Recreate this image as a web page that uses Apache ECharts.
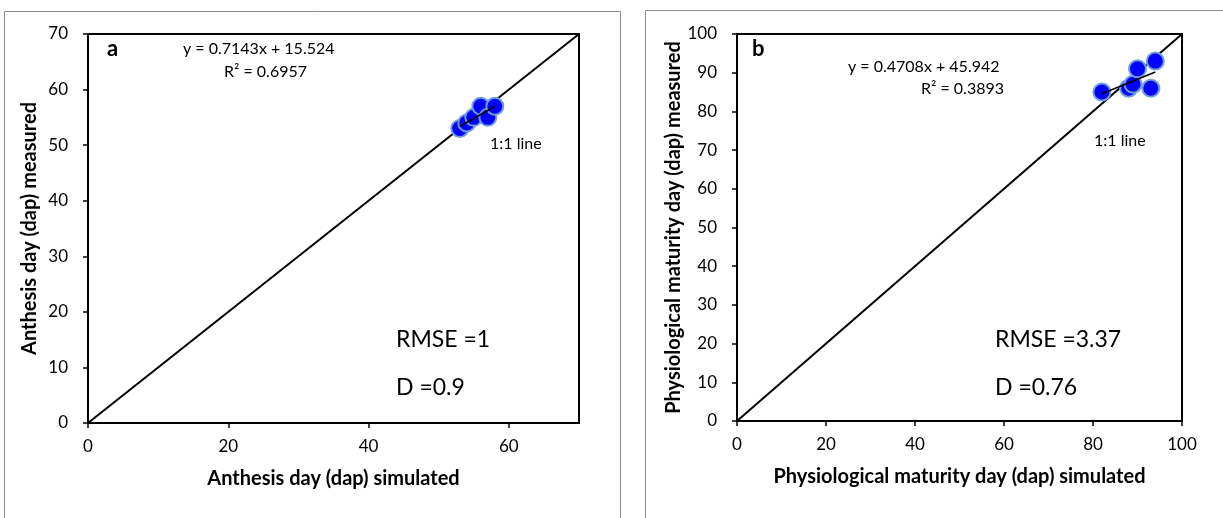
<!DOCTYPE html>
<html><head><meta charset="utf-8">
<script src="https://cdn.jsdelivr.net/npm/echarts@6/dist/echarts.min.js"></script>
<style>html,body{margin:0;padding:0;background:#fff}#c{width:1223px;height:518px}</style>
</head><body><div id="c"></div>
<script>
// Panel a: Anthesis
const anthesisSimulated = [53, 54, 55, 56, 57, 58];
const anthesisMeasured  = [53, 54, 55, 57, 55, 57];
// Panel b: Physiological maturity
const maturitySimulated = [82, 88, 89, 90, 93, 94];
const maturityMeasured  = [85, 86, 87, 91, 86, 93];

const axisA = {min: 0, max: 70, xInterval: 20, yInterval: 10};
const axisB = {min: 0, max: 100, xInterval: 20, yInterval: 10};

const labelsA = {eq: 'y = 0.7143x + 15.524', r2: 'R\u00b2 = 0.6957', rmse: 'RMSE =1', d: 'D =0.9', tag: 'a'};
const labelsB = {eq: 'y = 0.4708x + 45.942', r2: 'R\u00b2 = 0.3893', rmse: 'RMSE =3.37', d: 'D =0.76', tag: 'b'};

function fit(xs, ys) {
  const n = xs.length;
  const mx = xs.reduce((a,b)=>a+b,0)/n, my = ys.reduce((a,b)=>a+b,0)/n;
  let sxy = 0, sxx = 0;
  for (let i=0;i<n;i++){ sxy += (xs[i]-mx)*(ys[i]-my); sxx += (xs[i]-mx)**2; }
  const k = sxy/sxx, b = my - k*mx;
  const x0 = Math.min(...xs), x1 = Math.max(...xs);
  return [[x0, k*x0+b], [x1, k*x1+b]];
}

const FONT = 'Lato, "Open Sans", sans-serif';
const chart = echarts.init(document.getElementById('c'), null, {renderer: 'canvas'});

function xAxisCfg(gi, ax, name) {
  return {
    gridIndex: gi, type: 'value', min: ax.min, max: ax.max, interval: ax.xInterval,
    name: name, nameLocation: 'middle', nameGap: 46,
    nameTextStyle: {fontFamily: FONT, fontSize: 20, fontWeight: 'bold', color: '#000'},
    axisLine: {show: true, onZero: false, lineStyle: {color: '#000', width: 2}},
    axisTick: {show: true, length: 5, lineStyle: {color: '#000', width: 1.5}},
    axisLabel: {fontFamily: FONT, fontSize: 17, color: '#000', margin: 15, showMaxLabel: ax.max % ax.xInterval === 0},
    splitLine: {show: false}
  };
}
function yAxisCfg(gi, ax, name) {
  return {
    gridIndex: gi, type: 'value', min: ax.min, max: ax.max, interval: ax.yInterval,
    name: name, nameLocation: 'middle', nameGap: 48,
    nameTextStyle: {fontFamily: FONT, fontSize: 20, fontWeight: 'bold', color: '#000'},
    axisLine: {show: true, onZero: false, lineStyle: {color: '#000', width: 2}},
    axisTick: {show: true, length: 5, lineStyle: {color: '#000', width: 1.5}},
    axisLabel: {fontFamily: FONT, fontSize: 17, color: '#000', margin: 20},
    splitLine: {show: false}
  };
}

const pointsA = anthesisSimulated.map((x,i)=>[x, anthesisMeasured[i]]);
const pointsB = maturitySimulated.map((x,i)=>[x, maturityMeasured[i]]);

const scatterStyle = {
  symbol: 'circle', symbolSize: 17,
  itemStyle: {color: '#0000ff', borderColor: '#6f9fd8', borderWidth: 2, opacity: 1}
};

function txt(x, y, text, size, weight) {
  return {type: 'text', left: x, top: y, style: {text: text, fontFamily: FONT, fontSize: size, fontWeight: weight || 'normal', fill: '#000'}};
}

chart.setOption({
  animation: false,
  grid: [
    {left: 88, top: 34, width: 491, height: 389, show: true, borderColor: '#000', borderWidth: 2, backgroundColor: 'transparent'},
    {left: 737, top: 34, width: 445, height: 387, show: true, borderColor: '#000', borderWidth: 2, backgroundColor: 'transparent'}
  ],
  xAxis: [xAxisCfg(0, axisA, 'Anthesis day (dap) simulated'), xAxisCfg(1, axisB, 'Physiological maturity day (dap) simulated')],
  yAxis: [yAxisCfg(0, axisA, 'Anthesis day (dap) measured'), yAxisCfg(1, axisB, 'Physiological maturity day (dap) measured')],
  series: [
    {type: 'line', xAxisIndex: 0, yAxisIndex: 0, data: [[axisA.min, axisA.min], [axisA.max, axisA.max]], symbol: 'none', lineStyle: {color: '#000', width: 2}, z: 3},
    {type: 'scatter', xAxisIndex: 0, yAxisIndex: 0, data: pointsA, ...scatterStyle, z: 4},
    {type: 'line', xAxisIndex: 0, yAxisIndex: 0, data: fit(anthesisSimulated, anthesisMeasured), symbol: 'none', lineStyle: {color: '#000', width: 1.5}, z: 5},
    {type: 'line', xAxisIndex: 1, yAxisIndex: 1, data: [[axisB.min, axisB.min], [axisB.max, axisB.max]], symbol: 'none', lineStyle: {color: '#000', width: 2}, z: 3},
    {type: 'scatter', xAxisIndex: 1, yAxisIndex: 1, data: pointsB, ...scatterStyle, z: 4},
    {type: 'line', xAxisIndex: 1, yAxisIndex: 1, data: fit(maturitySimulated, maturityMeasured), symbol: 'none', lineStyle: {color: '#000', width: 1.5}, z: 5}
  ],
  graphic: [
    {type: 'rect', shape: {x: 4.5, y: 11.5, width: 616, height: 520}, style: {fill: 'none', stroke: '#8c8c8c', lineWidth: 1}, silent: true, z: -10},
    {type: 'rect', shape: {x: 645.5, y: 10.5, width: 600, height: 520}, style: {fill: 'none', stroke: '#8c8c8c', lineWidth: 1}, silent: true, z: -10},
    txt(107, 38, labelsA.tag, 22, 'bold'),
    txt(183, 41, labelsA.eq, 16),
    txt(224, 64, labelsA.r2, 16),
    txt(490, 136, '1:1 line', 16),
    txt(396, 328, labelsA.rmse, 23),
    txt(396, 376, labelsA.d, 23),
    txt(752, 38, labelsB.tag, 22, 'bold'),
    txt(848, 59, labelsB.eq, 16),
    txt(921, 81, labelsB.r2, 16),
    txt(1094, 133, '1:1 line', 16),
    txt(995, 328, labelsB.rmse, 23),
    txt(995, 376, labelsB.d, 23)
  ]
});
</script></body></html>
